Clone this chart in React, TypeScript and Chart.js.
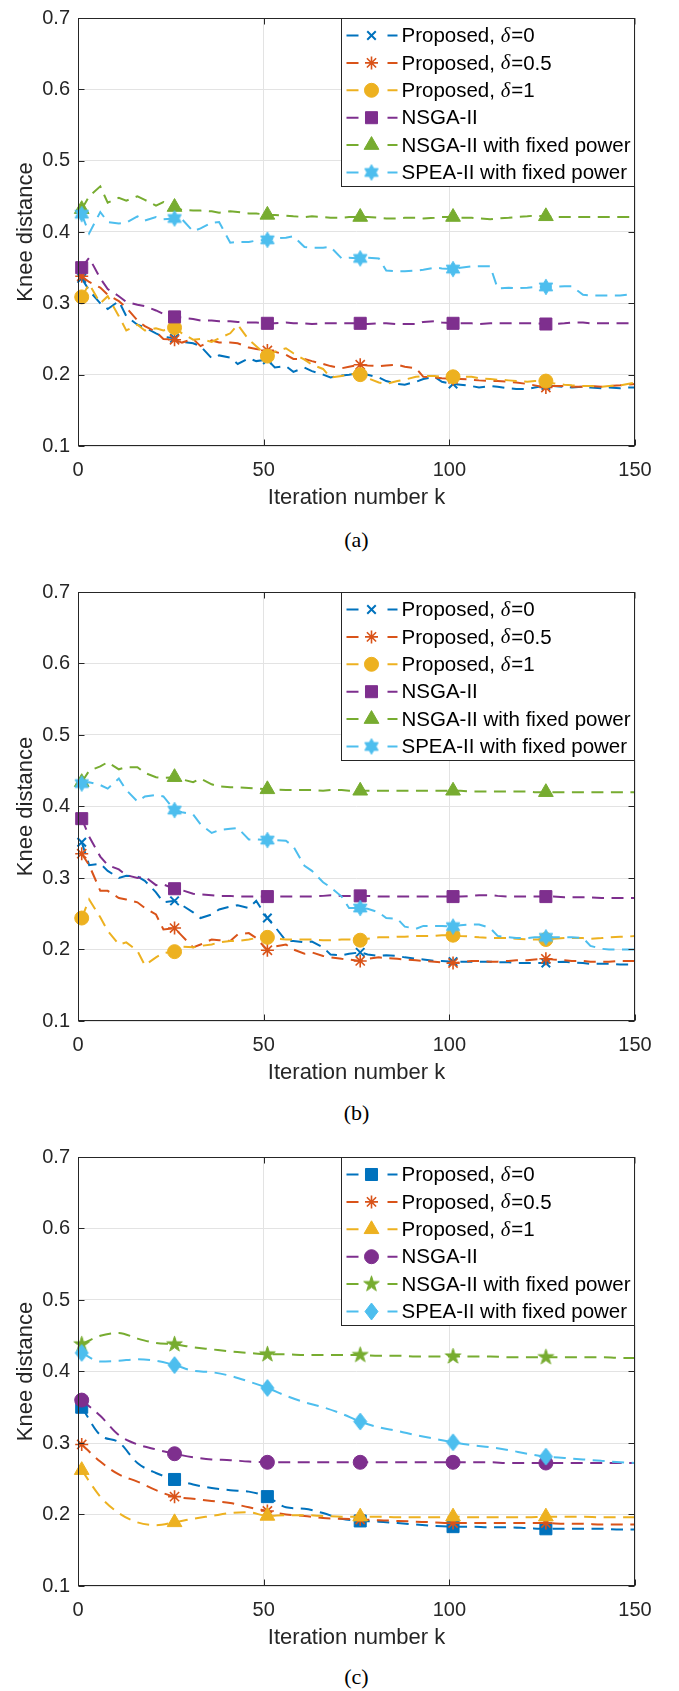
import React, { useEffect, useRef } from 'react';
import { Chart, registerables } from 'chart.js';
import { drawPoint } from 'chart.js/helpers';

Chart.register(...registerables);

// ---------------- DATA ----------------
const LEGEND_LABELS = [
  'Proposed, δ=0',
  'Proposed, δ=0.5',
  'Proposed, δ=1',
  'NSGA-II',
  'NSGA-II with fixed power',
  'SPEA-II with fixed power',
];
const COLORS = ['#0072BD', '#D95319', '#EDB120', '#7E2F8E', '#77AC30', '#4DBEEE'];

const X_TICKS = [0, 50, 100, 150];
const Y_TICKS = [0.1, 0.2, 0.3, 0.4, 0.5, 0.6, 0.7];
const MARKER_ITERS = [1, 26, 51, 76, 101, 126];

const ITER_AB = [1, 3, 6, 8, 11, 13, 16, 18, 21, 23, 26, 28, 31, 33, 36, 38, 41, 43, 46, 48, 51, 53, 56, 58, 61, 63, 66, 68, 71, 73, 76, 78, 81, 83, 86, 88, 91, 93, 96, 98, 101, 103, 106, 108, 111, 113, 116, 118, 121, 123, 126, 128, 131, 133, 136, 138, 141, 143, 146, 148, 150];
const ITER_C = [1, 6, 11, 16, 21, 26, 31, 36, 41, 46, 51, 56, 61, 66, 71, 76, 81, 86, 91, 96, 101, 106, 111, 116, 121, 126, 131, 136, 141, 146, 150];

// Panel (a)
const A_P0 = [0.335, 0.318, 0.300, 0.292, 0.303, 0.282, 0.270, 0.266, 0.258, 0.253,
  0.251, 0.246, 0.244, 0.240, 0.223, 0.227, 0.224, 0.215, 0.223, 0.219,
  0.221, 0.210, 0.212, 0.204, 0.210, 0.205, 0.200, 0.196, 0.199, 0.200,
  0.202, 0.200, 0.196, 0.191, 0.187, 0.186, 0.190, 0.194, 0.197, 0.190,
  0.187, 0.186, 0.184, 0.182, 0.184, 0.183, 0.181, 0.180, 0.180, 0.182,
  0.185, 0.184, 0.183, 0.182, 0.183, 0.182, 0.181, 0.182, 0.181, 0.182, 0.182];
const A_P5 = [0.338, 0.330, 0.322, 0.312, 0.303, 0.294, 0.276, 0.268, 0.260, 0.250,
  0.249, 0.245, 0.250, 0.240, 0.248, 0.245, 0.245, 0.244, 0.238, 0.236,
  0.234, 0.232, 0.228, 0.222, 0.222, 0.219, 0.215, 0.212, 0.209, 0.211,
  0.214, 0.213, 0.212, 0.213, 0.214, 0.211, 0.209, 0.197, 0.196, 0.195,
  0.194, 0.194, 0.193, 0.192, 0.191, 0.191, 0.190, 0.189, 0.187, 0.185,
  0.182, 0.184, 0.184, 0.183, 0.183, 0.184, 0.183, 0.184, 0.185, 0.186, 0.187];
const A_P1 = [0.309, 0.327, 0.300, 0.310, 0.282, 0.262, 0.270, 0.262, 0.265, 0.262,
  0.266, 0.258, 0.249, 0.250, 0.246, 0.251, 0.258, 0.270, 0.249, 0.240,
  0.226, 0.232, 0.237, 0.230, 0.221, 0.214, 0.208, 0.196, 0.198, 0.201,
  0.200, 0.195, 0.189, 0.187, 0.191, 0.193, 0.197, 0.198, 0.198, 0.197,
  0.197, 0.197, 0.197, 0.195, 0.194, 0.193, 0.192, 0.191, 0.190, 0.191,
  0.191, 0.188, 0.186, 0.185, 0.184, 0.184, 0.183, 0.184, 0.185, 0.187, 0.189];
const A_NSGA = [0.350, 0.364, 0.335, 0.320, 0.310, 0.302, 0.298, 0.296, 0.290, 0.285,
  0.281, 0.280, 0.278, 0.276, 0.276, 0.275, 0.275, 0.274, 0.273, 0.273,
  0.272, 0.272, 0.273, 0.272, 0.272, 0.271, 0.272, 0.272, 0.272, 0.272,
  0.272, 0.271, 0.272, 0.272, 0.271, 0.271, 0.271, 0.274, 0.275, 0.273,
  0.272, 0.272, 0.272, 0.271, 0.272, 0.272, 0.272, 0.272, 0.272, 0.272,
  0.271, 0.271, 0.272, 0.273, 0.273, 0.272, 0.272, 0.272, 0.272, 0.272, 0.272];
const A_NSGA_FIXED = [0.432, 0.450, 0.464, 0.441, 0.448, 0.444, 0.450, 0.445, 0.437, 0.442,
  0.435, 0.431, 0.430, 0.430, 0.429, 0.427, 0.429, 0.428, 0.426, 0.426,
  0.424, 0.424, 0.423, 0.422, 0.421, 0.422, 0.421, 0.420, 0.420, 0.421,
  0.421, 0.421, 0.420, 0.419, 0.419, 0.420, 0.420, 0.419, 0.420, 0.421,
  0.421, 0.420, 0.420, 0.419, 0.418, 0.419, 0.420, 0.421, 0.422, 0.423,
  0.422, 0.421, 0.421, 0.421, 0.421, 0.421, 0.421, 0.421, 0.421, 0.421, 0.421];
const A_SPEA_FIXED = [0.425, 0.398, 0.428, 0.414, 0.412, 0.413, 0.422, 0.416, 0.421, 0.418,
  0.419, 0.418, 0.401, 0.405, 0.413, 0.414, 0.385, 0.386, 0.386, 0.388,
  0.389, 0.391, 0.392, 0.394, 0.379, 0.378, 0.378, 0.379, 0.363, 0.364,
  0.363, 0.364, 0.363, 0.346, 0.345, 0.345, 0.346, 0.347, 0.350, 0.349,
  0.348, 0.350, 0.352, 0.352, 0.352, 0.321, 0.322, 0.321, 0.322, 0.323,
  0.323, 0.323, 0.324, 0.324, 0.312, 0.311, 0.311, 0.311, 0.311, 0.312, 0.313];

// Panel (b)
const B_P0 = [0.350, 0.318, 0.320, 0.310, 0.300, 0.303, 0.302, 0.296, 0.280, 0.266,
  0.268, 0.262, 0.252, 0.244, 0.249, 0.256, 0.260, 0.262, 0.258, 0.268,
  0.244, 0.232, 0.212, 0.212, 0.210, 0.211, 0.203, 0.193, 0.192, 0.194,
  0.196, 0.193, 0.191, 0.192, 0.191, 0.189, 0.187, 0.186, 0.184, 0.184,
  0.183, 0.183, 0.183, 0.183, 0.183, 0.182, 0.182, 0.181, 0.181, 0.181,
  0.181, 0.182, 0.183, 0.182, 0.181, 0.180, 0.180, 0.180, 0.179, 0.179, 0.179];
const B_P5 = [0.334, 0.318, 0.282, 0.282, 0.272, 0.270, 0.266, 0.258, 0.249, 0.228,
  0.230, 0.219, 0.203, 0.207, 0.214, 0.213, 0.212, 0.221, 0.223, 0.216,
  0.199, 0.204, 0.207, 0.200, 0.194, 0.196, 0.191, 0.189, 0.187, 0.186,
  0.184, 0.187, 0.189, 0.188, 0.187, 0.186, 0.185, 0.184, 0.183, 0.182,
  0.181, 0.182, 0.184, 0.184, 0.183, 0.183, 0.184, 0.185, 0.185, 0.186,
  0.187, 0.186, 0.185, 0.184, 0.184, 0.183, 0.183, 0.183, 0.184, 0.184, 0.184];
const B_P1 = [0.244, 0.270, 0.245, 0.226, 0.207, 0.210, 0.198, 0.178, 0.189, 0.195,
  0.197, 0.204, 0.203, 0.205, 0.207, 0.210, 0.212, 0.212, 0.214, 0.216,
  0.217, 0.215, 0.214, 0.214, 0.214, 0.214, 0.213, 0.213, 0.214, 0.214,
  0.213, 0.215, 0.217, 0.217, 0.218, 0.218, 0.219, 0.219, 0.219, 0.220,
  0.220, 0.219, 0.218, 0.217, 0.216, 0.216, 0.216, 0.215, 0.214, 0.214,
  0.214, 0.215, 0.216, 0.216, 0.216, 0.215, 0.216, 0.217, 0.218, 0.218, 0.219];
const B_NSGA = [0.383, 0.358, 0.330, 0.318, 0.312, 0.304, 0.300, 0.302, 0.290, 0.291,
  0.285, 0.283, 0.278, 0.277, 0.276, 0.275, 0.275, 0.274, 0.274, 0.274,
  0.274, 0.274, 0.274, 0.274, 0.274, 0.274, 0.275, 0.276, 0.275, 0.275,
  0.275, 0.275, 0.274, 0.274, 0.274, 0.274, 0.274, 0.274, 0.274, 0.274,
  0.274, 0.274, 0.275, 0.276, 0.276, 0.275, 0.274, 0.274, 0.274, 0.274,
  0.274, 0.274, 0.273, 0.273, 0.273, 0.273, 0.272, 0.272, 0.272, 0.272, 0.272];
const B_NSGA_FIXED = [0.434, 0.450, 0.456, 0.462, 0.452, 0.455, 0.455, 0.447, 0.441, 0.440,
  0.441, 0.438, 0.434, 0.439, 0.431, 0.428, 0.427, 0.427, 0.426, 0.425,
  0.424, 0.424, 0.423, 0.423, 0.423, 0.423, 0.422, 0.423, 0.423, 0.422,
  0.422, 0.422, 0.422, 0.422, 0.422, 0.422, 0.422, 0.422, 0.422, 0.422,
  0.422, 0.422, 0.421, 0.421, 0.421, 0.421, 0.421, 0.421, 0.421, 0.420,
  0.420, 0.420, 0.420, 0.420, 0.420, 0.420, 0.420, 0.420, 0.420, 0.420, 0.420];
const B_SPEA_FIXED = [0.432, 0.434, 0.430, 0.425, 0.439, 0.423, 0.407, 0.414, 0.416, 0.414,
  0.395, 0.392, 0.389, 0.375, 0.363, 0.367, 0.369, 0.370, 0.354, 0.354,
  0.353, 0.353, 0.352, 0.344, 0.317, 0.310, 0.294, 0.287, 0.274, 0.258,
  0.258, 0.257, 0.252, 0.244, 0.243, 0.232, 0.229, 0.233, 0.233, 0.233,
  0.232, 0.234, 0.235, 0.235, 0.230, 0.219, 0.217, 0.216, 0.216, 0.217,
  0.217, 0.217, 0.217, 0.217, 0.216, 0.205, 0.201, 0.200, 0.200, 0.200, 0.200];

// Panel (c)
const C_P0 = [0.350, 0.311, 0.301, 0.272, 0.258, 0.249, 0.242, 0.237, 0.234, 0.232, 0.225, 0.210, 0.208, 0.202, 0.194, 0.191, 0.190, 0.188, 0.186, 0.184, 0.183, 0.183, 0.182, 0.182, 0.181, 0.180, 0.180, 0.180, 0.180, 0.179, 0.179];
const C_P5 = [0.298, 0.274, 0.256, 0.246, 0.234, 0.225, 0.222, 0.219, 0.216, 0.210, 0.205, 0.200, 0.198, 0.195, 0.194, 0.193, 0.192, 0.191, 0.190, 0.189, 0.188, 0.188, 0.188, 0.188, 0.188, 0.188, 0.187, 0.187, 0.186, 0.186, 0.186];
const C_P1 = [0.262, 0.225, 0.202, 0.189, 0.185, 0.189, 0.194, 0.198, 0.202, 0.203, 0.198, 0.199, 0.199, 0.198, 0.197, 0.197, 0.197, 0.196, 0.196, 0.196, 0.197, 0.196, 0.196, 0.196, 0.196, 0.197, 0.197, 0.197, 0.196, 0.196, 0.196];
const C_NSGA = [0.360, 0.338, 0.311, 0.298, 0.291, 0.285, 0.280, 0.277, 0.276, 0.274, 0.273, 0.273, 0.273, 0.273, 0.273, 0.273, 0.273, 0.273, 0.273, 0.273, 0.273, 0.273, 0.273, 0.272, 0.272, 0.272, 0.272, 0.272, 0.272, 0.272, 0.272];
const C_NSGA_FIXED = [0.438, 0.450, 0.454, 0.446, 0.440, 0.438, 0.434, 0.431, 0.428, 0.426, 0.424, 0.424, 0.423, 0.423, 0.423, 0.423, 0.422, 0.422, 0.421, 0.421, 0.421, 0.421, 0.421, 0.420, 0.420, 0.420, 0.420, 0.420, 0.420, 0.419, 0.419];
const C_SPEA_FIXED = [0.426, 0.414, 0.415, 0.417, 0.415, 0.409, 0.401, 0.399, 0.394, 0.386, 0.377, 0.366, 0.357, 0.350, 0.341, 0.330, 0.322, 0.317, 0.311, 0.306, 0.301, 0.297, 0.294, 0.290, 0.285, 0.281, 0.279, 0.277, 0.275, 0.273, 0.272];

// ---------------- STYLE / LAYOUT ----------------
const SANS = '"Liberation Sans", Arial, Helvetica, sans-serif';
const SERIF = '"Liberation Serif", "Times New Roman", serif';
const AXIS_COLOR = '#262626';
const GRID_COLOR = '#e3e3e3';
const W = 679;
const PLOT_LEFT = 78;
const PLOT_RIGHT = 635;
const TOP_PAD = 12;
const X_AXIS_H = 74;
const LEGEND_FONT = 20.5;

type PanelCfg = {
  iters: number[];
  series: number[][];
  markers: string[];
  plotTop: number;
  plotH: number;
  caption: string;
  captionY: number;
  smooth: boolean;
};

const PANELS: PanelCfg[] = [
  {
    iters: ITER_AB,
    series: [A_P0, A_P5, A_P1, A_NSGA, A_NSGA_FIXED, A_SPEA_FIXED],
    markers: ['x', 'asterisk', 'circle', 'square', 'triangle', 'hexagram'],
    plotTop: 12, plotH: 434, caption: '(a)', captionY: 540, smooth: false,
  },
  {
    iters: ITER_AB,
    series: [B_P0, B_P5, B_P1, B_NSGA, B_NSGA_FIXED, B_SPEA_FIXED],
    markers: ['x', 'asterisk', 'circle', 'square', 'triangle', 'hexagram'],
    plotTop: 586, plotH: 435, caption: '(b)', captionY: 1113, smooth: false,
  },
  {
    iters: ITER_C,
    series: [C_P0, C_P5, C_P1, C_NSGA, C_NSGA_FIXED, C_SPEA_FIXED],
    markers: ['square', 'asterisk', 'triangle', 'circle', 'pentagram', 'diamond'],
    plotTop: 1151, plotH: 435, caption: '(c)', captionY: 1677, smooth: true,
  },
];

function starCanvas(points: number, R: number, r: number, color: string) {
  const size = Math.ceil(R * 2 + 4);
  const c = document.createElement('canvas');
  c.width = size; c.height = size;
  const g = c.getContext('2d')!;
  g.translate(size / 2, size / 2);
  g.beginPath();
  for (let i = 0; i < points * 2; i++) {
    const rad = i % 2 === 0 ? R : r;
    const a = -Math.PI / 2 + (i * Math.PI) / points;
    const px = rad * Math.cos(a), py = rad * Math.sin(a);
    if (i === 0) g.moveTo(px, py); else g.lineTo(px, py);
  }
  g.closePath();
  g.fillStyle = color; g.fill();
  g.strokeStyle = color; g.lineWidth = 1; g.stroke();
  return c;
}

function diamondCanvas(w: number, h: number, color: string) {
  const cw = Math.ceil(w + 4), ch = Math.ceil(h + 4);
  const c = document.createElement('canvas');
  c.width = cw; c.height = ch;
  const g = c.getContext('2d')!;
  g.translate(cw / 2, ch / 2);
  g.beginPath();
  g.moveTo(0, -h / 2); g.lineTo(w / 2, 0); g.lineTo(0, h / 2); g.lineTo(-w / 2, 0);
  g.closePath();
  g.fillStyle = color; g.fill();
  g.strokeStyle = color; g.lineWidth = 1; g.stroke();
  return c;
}

function buildMarker(kind: string, color: string): { pointStyle: any; radius: number; borderWidth: number } {
  switch (kind) {
    case 'x': return { pointStyle: 'crossRot', radius: 6, borderWidth: 2 };
    case 'asterisk': return { pointStyle: 'star', radius: 6.5, borderWidth: 1.6 };
    case 'circle': return { pointStyle: 'circle', radius: 7, borderWidth: 1 };
    case 'square': return { pointStyle: 'rect', radius: 8.5, borderWidth: 1 };
    case 'triangle': return { pointStyle: 'triangle', radius: 8.5, borderWidth: 1 };
    case 'hexagram': return { pointStyle: starCanvas(6, 7.8, 7.8 / Math.sqrt(3), color), radius: 7.5, borderWidth: 1 };
    case 'pentagram': return { pointStyle: starCanvas(5, 8.2, 8.2 * 0.382, color), radius: 8, borderWidth: 1 };
    case 'diamond': return { pointStyle: diamondCanvas(13, 17, color), radius: 8, borderWidth: 1 };
    default: return { pointStyle: 'circle', radius: 6, borderWidth: 1 };
  }
}

function drawLegendLabel(ctx: CanvasRenderingContext2D, text: string, x: number, y: number) {
  const parts = text.split('δ');
  const sans = `${LEGEND_FONT}px ${SANS}`;
  ctx.font = sans;
  ctx.fillText(parts[0], x, y);
  let cx = x + ctx.measureText(parts[0]).width;
  if (parts.length > 1) {
    ctx.font = `italic ${LEGEND_FONT}px ${SERIF}`;
    ctx.fillText('δ', cx, y);
    cx += ctx.measureText('δ').width + 1;
    ctx.font = sans;
    ctx.fillText(parts[1], cx, y);
  }
}

function makeOverlayPlugin(markers: { pointStyle: any; radius: number; borderWidth: number }[]) {
  return {
    id: 'matlabOverlay',
    afterDraw(chart: any) {
      const { ctx, chartArea } = chart;
      const xs = chart.scales.x, ys = chart.scales.y;
      const L = Math.round(chartArea.left) + 0.5;
      const R = Math.round(chartArea.right) - 0.5;
      const T = Math.round(chartArea.top) + 0.5;
      const B = Math.round(chartArea.bottom) - 0.5;
      ctx.save();
      // inward tick marks
      ctx.strokeStyle = AXIS_COLOR;
      ctx.lineWidth = 1;
      ctx.beginPath();
      const tl = 6;
      Y_TICKS.forEach((v) => {
        const py = Math.round(ys.getPixelForValue(v)) + 0.5;
        ctx.moveTo(L, py); ctx.lineTo(L + tl, py);
        ctx.moveTo(R, py); ctx.lineTo(R - tl, py);
      });
      X_TICKS.forEach((v) => {
        const px = Math.round(xs.getPixelForValue(v)) + 0.5;
        ctx.moveTo(px, B); ctx.lineTo(px, B - tl);
        ctx.moveTo(px, T); ctx.lineTo(px, T + tl);
      });
      ctx.stroke();
      // box
      ctx.strokeRect(L, T, R - L, B - T);

      // legend
      const lw = 294, lh = 168;
      const x0 = Math.round(chartArea.right - lw) + 0.5;
      const y0 = T;
      ctx.fillStyle = '#ffffff';
      ctx.fillRect(x0, y0, lw, lh);
      ctx.strokeStyle = AXIS_COLOR;
      ctx.lineWidth = 1;
      ctx.strokeRect(x0, y0, R - x0, lh);
      LEGEND_LABELS.forEach((label, i) => {
        const ry = y0 + 17 + i * 27.4;
        const color = COLORS[i];
        ctx.strokeStyle = color;
        ctx.lineWidth = 2;
        ctx.setLineDash([]);
        ctx.beginPath();
        ctx.moveTo(x0 + 5, ry); ctx.lineTo(x0 + 17, ry);
        ctx.moveTo(x0 + 46, ry); ctx.lineTo(x0 + 56, ry);
        ctx.stroke();
        const m = markers[i];
        ctx.fillStyle = color;
        ctx.strokeStyle = color;
        ctx.lineWidth = m.borderWidth;
        drawPoint(ctx, { pointStyle: m.pointStyle, radius: m.radius, rotation: 0, borderWidth: m.borderWidth } as any, x0 + 30, ry);
        ctx.fillStyle = '#000000';
        ctx.textBaseline = 'middle';
        ctx.textAlign = 'left';
        drawLegendLabel(ctx, label, x0 + 60, ry + 1);
      });
      ctx.restore();
    },
  };
}

function Panel({ cfg }: { cfg: PanelCfg }) {
  const ref = useRef<HTMLCanvasElement>(null);
  const canvasTop = cfg.plotTop - TOP_PAD;
  const canvasH = TOP_PAD + cfg.plotH + X_AXIS_H;

  useEffect(() => {
    if (!ref.current) return;
    const markers = cfg.markers.map((k, i) => buildMarker(k, COLORS[i]));
    const datasets = cfg.series.map((vals, i) => {
      const m = markers[i];
      return {
        label: LEGEND_LABELS[i],
        data: cfg.iters.map((k, j) => ({ x: k, y: vals[j] })),
        borderColor: COLORS[i],
        backgroundColor: COLORS[i],
        borderWidth: 2,
        borderDash: [12, 7.5],
        borderCapStyle: 'butt',
        pointStyle: m.pointStyle,
        pointRadius: (c: any) => (MARKER_ITERS.includes(cfg.iters[c.dataIndex]) ? m.radius : 0),
        pointHoverRadius: 0,
        pointBorderWidth: m.borderWidth,
        pointBackgroundColor: COLORS[i],
        pointBorderColor: COLORS[i],
        tension: 0,
        cubicInterpolationMode: cfg.smooth ? 'monotone' : 'default',
        clip: false,
        order: 5 - i,
        fill: false,
      };
    });
    const chart = new Chart(ref.current, {
      type: 'line',
      data: { datasets } as any,
      options: {
        responsive: false,
        animation: false,
        devicePixelRatio: 1,
        events: [],
        layout: { padding: { top: TOP_PAD, right: W - PLOT_RIGHT, left: 0, bottom: 0 }, autoPadding: false },
        plugins: { legend: { display: false }, tooltip: { enabled: false }, title: { display: false } },
        scales: {
          x: {
            type: 'linear',
            min: 0,
            max: 150,
            ticks: {
              stepSize: 50, padding: 14, color: AXIS_COLOR, maxRotation: 0, autoSkip: false,
              font: { family: SANS, size: 20, lineHeight: 1 },
            },
            grid: { color: GRID_COLOR, drawTicks: false, lineWidth: 1 },
            border: { display: false },
            title: {
              display: true, text: 'Iteration number k', color: AXIS_COLOR,
              font: { family: SANS, size: 22 }, padding: { top: 0, bottom: 9 },
            },
            afterFit: (s: any) => { s.height = X_AXIS_H; },
          },
          y: {
            type: 'linear',
            min: 0.1,
            max: 0.7,
            ticks: {
              stepSize: 0.1, padding: 8, color: AXIS_COLOR,
              font: { family: SANS, size: 20, lineHeight: 1 },
              callback: (v: any) => Number(v).toFixed(1),
            },
            grid: { color: GRID_COLOR, drawTicks: false, lineWidth: 1 },
            border: { display: false },
            title: {
              display: true, text: 'Knee distance', color: AXIS_COLOR,
              font: { family: SANS, size: 22 }, padding: { top: 13, bottom: 0 },
            },
            afterFit: (s: any) => { s.width = PLOT_LEFT; },
          },
        },
      } as any,
      plugins: [makeOverlayPlugin(markers)],
    });
    return () => chart.destroy();
  }, [cfg]);

  return (
    <>
      <canvas
        ref={ref}
        width={W}
        height={canvasH}
        style={{ position: 'absolute', left: 0, top: canvasTop, width: W, height: canvasH, display: 'block' }}
      />
      <div
        style={{
          position: 'absolute', left: PLOT_LEFT, width: PLOT_RIGHT - PLOT_LEFT, top: cfg.captionY - 13,
          height: 26, lineHeight: '26px', textAlign: 'center', fontFamily: SERIF, fontSize: 22, color: '#000',
        }}
      >
        {cfg.caption}
      </div>
    </>
  );
}

export default function App() {
  return (
    <div style={{ position: 'absolute', left: 0, top: 0, width: W, height: 1691, background: '#fff', overflow: 'hidden' }}>
      {PANELS.map((p, i) => (
        <Panel key={i} cfg={p} />
      ))}
    </div>
  );
}
